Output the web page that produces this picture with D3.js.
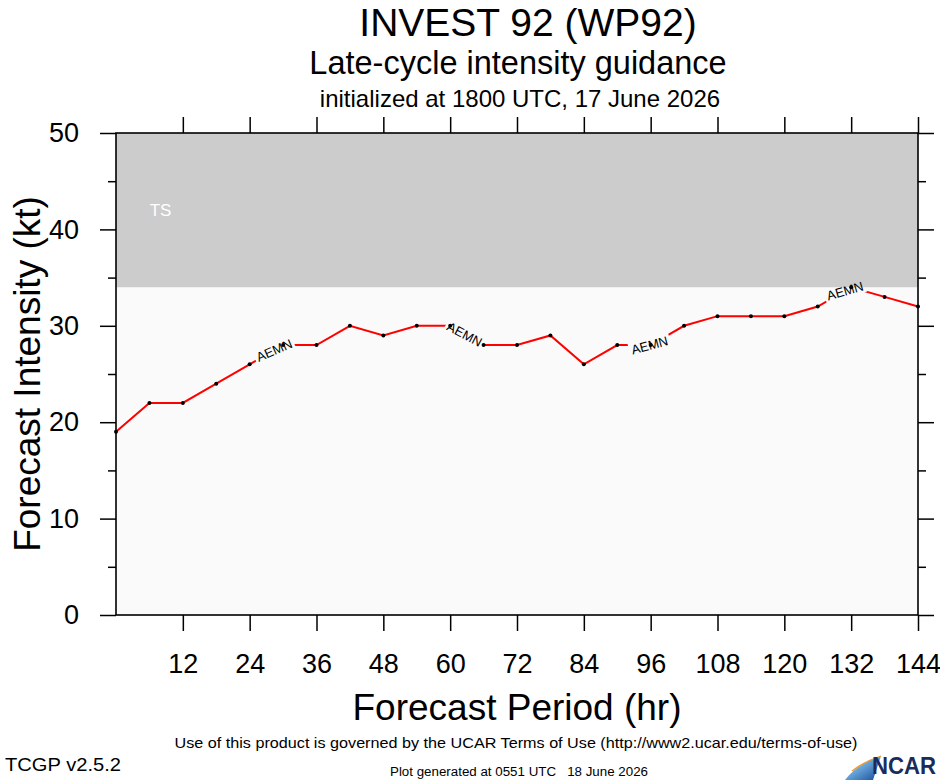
<!DOCTYPE html>
<html lang="en">
<head>
  <meta http-equiv="Content-Type" content="text/html; charset=utf-8">
  <title>INVEST 92 (WP92)</title>
  <style type="text/css">
    body { margin: 0; background: #fff; }
    text { font-family: "Liberation Sans", Arial, Helvetica, sans-serif; fill: #000; }
    .narrow { font-family: "Liberation Sans Narrow", "Arial Narrow", "Liberation Sans", sans-serif; white-space: pre; }
  </style>
</head>
<body>
<script src="https://cdn.jsdelivr.net/npm/d3@7"></script>
<script>
  //----------------------------------------------------------------------------
  // forecast hours and AEMN intensity (kt)
  var hours = [0, 6, 12, 18, 24, 30, 36, 42, 48, 54, 60, 66, 72, 78, 84, 90, 96,
               102, 108, 114, 120, 126, 132, 138, 144];
  var aemn  = [19, 22, 22, 24, 26, 28, 28, 30, 29, 30, 30, 28, 28, 29, 26, 28, 28,
               30, 31, 31, 31, 32, 34, 33, 32];

  // where the model name is written along the line (hours)
  var labelHours = [28.4, 62.6, 95.8, 130.9];
  var modelName = "AEMN";

  var xTicks = [12, 24, 36, 48, 60, 72, 84, 96, 108, 120, 132, 144];
  var yTicks = [0, 10, 20, 30, 40, 50];
  var yMinor = [5, 15, 25, 35, 45];

  // tropical storm band
  var tsBand = { lo: 34, hi: 50, name: "TS" };

  var width = 940;
  var height = 780;
  var margin = { top: 133, right: 22, bottom: 165, left: 116 };
  var w = width - margin.left - margin.right;
  var h = height - margin.top - margin.bottom;

  var x = d3.scaleLinear().domain([0, 144]).range([0, w]);
  var y = d3.scaleLinear().domain([0, 50]).range([h, 0]);

  var svg = d3.select("body")
    .append("svg")
      .attr("width", width)
      .attr("height", height);

  // titles
  svg.append("text").attr("x", 528).attr("y", 36)
    .attr("text-anchor", "middle").style("font-size", "39px")
    .text("INVEST 92 (WP92)");
  svg.append("text").attr("x", 518).attr("y", 74)
    .attr("text-anchor", "middle").style("font-size", "32.5px")
    .text("Late-cycle intensity guidance");
  svg.append("text").attr("x", 520).attr("y", 107)
    .attr("text-anchor", "middle").style("font-size", "24px")
    .text("initialized at 1800 UTC, 17 June 2026");

  var g = svg.append("g")
    .attr("transform", "translate(" + margin.left + "," + margin.top + ")");

  // background and TS band
  g.append("rect").attr("width", w).attr("height", h).attr("fill", "#fafafa");
  g.append("rect")
    .attr("y", y(tsBand.hi)).attr("width", w)
    .attr("height", y(tsBand.lo) - y(tsBand.hi))
    .attr("fill", "#cccccc");
  g.append("text")
    .attr("x", x(8)).attr("y", y(42))
    .attr("text-anchor", "middle").attr("dy", "0.35em")
    .style("font-size", "17px").style("fill", "#fff")
    .text(tsBand.name);

  // value of the line at any hour
  function valueAt(t) {
    var i = Math.min(Math.floor(t / 6), hours.length - 2);
    var f = (t - hours[i]) / 6;
    return aemn[i] + f * (aemn[i + 1] - aemn[i]);
  }

  var labels = labelHours.map(function(t) {
    var x0 = x(t - 3.2), x1 = x(t + 3.2);
    var y0 = y(valueAt(t - 3.2)), y1 = y(valueAt(t + 3.2));
    return {
      cx: x(t), cy: y(valueAt(t)),
      angle: Math.atan2(y1 - y0, x1 - x0) * 180 / Math.PI
    };
  });

  // mask out the line under each label
  var mask = svg.append("defs").append("mask").attr("id", "gap")
    .attr("maskUnits", "userSpaceOnUse")
    .attr("x", -20).attr("y", -20).attr("width", w + 40).attr("height", h + 40);
  mask.append("rect").attr("x", -20).attr("y", -20)
    .attr("width", w + 40).attr("height", h + 40).attr("fill", "#fff");
  mask.selectAll(".hole").data(labels).enter().append("rect")
    .attr("x", -21).attr("y", -7).attr("width", 42).attr("height", 14)
    .attr("fill", "#000")
    .attr("transform", function(d) {
      return "translate(" + d.cx + "," + d.cy + ") rotate(" + d.angle + ")";
    });

  var line = d3.line()
    .x(function(d, i) { return x(hours[i]); })
    .y(function(d) { return y(d); });

  g.append("path")
    .datum(aemn)
    .attr("d", line)
    .attr("fill", "none")
    .attr("stroke", "#ff0000")
    .attr("stroke-width", 2)
    .attr("mask", "url(#gap)");

  g.selectAll(".lbl").data(labels).enter().append("text")
    .attr("class", "lbl")
    .attr("transform", function(d) {
      return "translate(" + d.cx + "," + d.cy + ") rotate(" + d.angle + ")";
    })
    .attr("text-anchor", "middle").attr("dy", "0.36em")
    .style("font-size", "13px")
    .text(modelName);

  g.selectAll(".dot").data(aemn).enter().append("circle")
    .attr("cx", function(d, i) { return x(hours[i]); })
    .attr("cy", function(d) { return y(d); })
    .attr("r", 2)
    .attr("fill", "#000");

  // axes
  function style(a) {
    a.select(".domain").remove();
    a.selectAll("line").attr("stroke", "#000").attr("stroke-width", 1.5);
    a.selectAll("text").style("font-size", "27px")
      .attr("font-family", null).attr("fill", "#000");
  }

  g.append("g")
    .call(d3.axisLeft(y).tickValues(yTicks).tickSize(16).tickPadding(21))
    .call(style);
  g.append("g")
    .call(d3.axisLeft(y).tickValues(yMinor).tickSize(8).tickFormat(""))
    .call(style);
  g.append("g").attr("transform", "translate(" + w + ",0)")
    .call(d3.axisRight(y).tickValues(yTicks).tickSize(16).tickFormat(""))
    .call(style);
  g.append("g").attr("transform", "translate(" + w + ",0)")
    .call(d3.axisRight(y).tickValues(yMinor).tickSize(8).tickFormat(""))
    .call(style);
  g.append("g").attr("transform", "translate(0," + h + ")")
    .call(d3.axisBottom(x).tickValues(xTicks).tickSize(16).tickPadding(23))
    .call(style);
  g.append("g")
    .call(d3.axisTop(x).tickValues(xTicks).tickSize(16).tickFormat(""))
    .call(style);

  g.append("rect").attr("width", w).attr("height", h)
    .attr("fill", "none").attr("stroke", "#000").attr("stroke-width", 1.6);

  // axis titles
  svg.append("text")
    .attr("transform", "translate(40," + (margin.top + h / 2) + ") rotate(-90)")
    .attr("text-anchor", "middle")
    .style("font-size", "37px")
    .text("Forecast Intensity (kt)");
  svg.append("text")
    .attr("x", margin.left + w / 2).attr("y", 720)
    .attr("text-anchor", "middle")
    .style("font-size", "37px")
    .text("Forecast Period (hr)");

  // footer
  svg.append("text").attr("class", "narrow")
    .attr("x", 516).attr("y", 748).attr("text-anchor", "middle")
    .attr("textLength", 683).attr("lengthAdjust", "spacingAndGlyphs")
    .style("font-size", "15px")
    .text("Use of this product is governed by the UCAR Terms of Use (http://www2.ucar.edu/terms-of-use)");
  svg.append("text").attr("class", "narrow")
    .attr("x", 5).attr("y", 771)
    .attr("textLength", 116).attr("lengthAdjust", "spacingAndGlyphs")
    .style("font-size", "18px")
    .text("TCGP v2.5.2");
  svg.append("text").attr("class", "narrow")
    .attr("x", 519).attr("y", 776).attr("text-anchor", "middle")
    .attr("textLength", 258).attr("lengthAdjust", "spacingAndGlyphs")
    .style("font-size", "12.5px")
    .text("Plot generated at 0551 UTC   18 June 2026");

  // NCAR logo, roughly
  var grad = svg.select("defs").append("linearGradient").attr("id", "ncarBlue")
    .attr("x1", "0").attr("y1", "0").attr("x2", "1").attr("y2", "1");
  grad.append("stop").attr("offset", "0").attr("stop-color", "#eef5fb");
  grad.append("stop").attr("offset", "0.45").attr("stop-color", "#6aa6d8");
  grad.append("stop").attr("offset", "1").attr("stop-color", "#12489a");
  svg.append("path")
    .attr("d", "M845,780 Q858,763 881,756 L873,780 Z")
    .attr("fill", "url(#ncarBlue)");
  svg.append("path")
    .attr("d", "M852,771 Q863,762 881,756")
    .attr("fill", "none").attr("stroke", "#f29a2e").attr("stroke-width", 1.3);
  svg.append("text")
    .attr("x", 936).attr("y", 774).attr("text-anchor", "end")
    .attr("textLength", 64).attr("lengthAdjust", "spacingAndGlyphs")
    .style("font-size", "24px").style("font-weight", "bold").style("fill", "#1b2c5c")
    .text("NCAR");

  //----------------------------------------------------------------------------
</script>
</body>
</html>
